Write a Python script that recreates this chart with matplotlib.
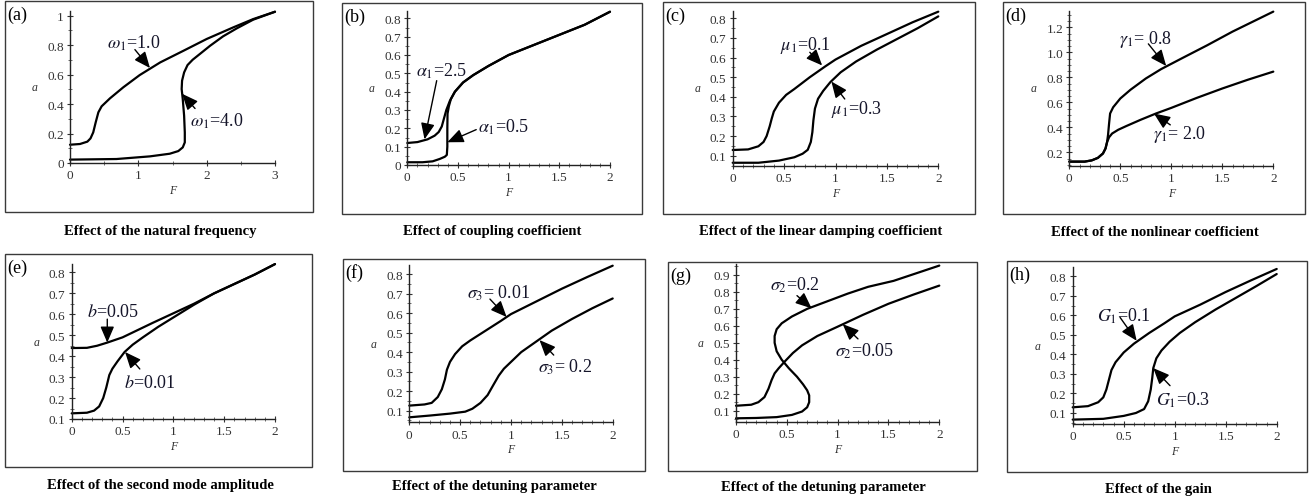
import matplotlib
matplotlib.use("Agg")
import matplotlib.pyplot as plt
from matplotlib.patches import Rectangle
from matplotlib.ticker import MultipleLocator, FormatStrFormatter, FuncFormatter

plt.rcParams['font.family'] = ['Liberation Serif', 'DejaVu Serif']
plt.rcParams['mathtext.fontset'] = 'stix'

W, H = 1309, 502

# ---- data (F, a) ----
# (a) natural frequency
a_F_w10 = [0, 0.146, 0.254, 0.30, 0.34, 0.376, 0.415, 0.463, 0.585, 0.78, 1.02, 1.32, 1.66, 2.0, 2.39, 2.68, 3.0]
a_a_w10 = [0.124, 0.129, 0.145, 0.167, 0.208, 0.276, 0.344, 0.385, 0.439, 0.514, 0.597, 0.683, 0.762, 0.842, 0.921, 0.977, 1.027]
a_F_w40 = [0, 0.68, 1.17, 1.46, 1.585, 1.65, 1.68, 1.68, 1.67, 1.65, 1.634, 1.64, 1.67, 1.72, 1.795, 1.90, 2.05, 2.24, 2.44, 2.68, 3.0]
a_a_w40 = [0.023, 0.027, 0.045, 0.063, 0.081, 0.106, 0.14, 0.208, 0.321, 0.434, 0.502, 0.559, 0.615, 0.665, 0.701, 0.74, 0.796, 0.86, 0.914, 0.973, 1.027]

# (b) coupling coefficient
b_F_al25 = [0, 0.1, 0.2, 0.27, 0.31, 0.34, 0.36, 0.385, 0.42, 0.47, 0.55, 0.65, 0.8, 1.0, 1.25, 1.5, 1.75, 2.0]
b_a_al25 = [0.12, 0.125, 0.14, 0.16, 0.18, 0.21, 0.25, 0.30, 0.35, 0.40, 0.45, 0.49, 0.54, 0.60, 0.655, 0.71, 0.765, 0.836]
b_F_al05 = [0, 0.15, 0.25, 0.32, 0.37, 0.39, 0.395, 0.395, 0.397, 0.41, 0.43, 0.47, 0.55, 0.65, 0.8, 1.0, 1.25, 1.5, 1.75, 2.0]
b_a_al05 = [0.015, 0.015, 0.02, 0.033, 0.045, 0.055, 0.10, 0.20, 0.28, 0.32, 0.36, 0.40, 0.45, 0.49, 0.54, 0.60, 0.655, 0.71, 0.765, 0.836]

# (c) linear damping coefficient
c_F_mu01 = [0, 0.15, 0.25, 0.30, 0.33, 0.36, 0.38, 0.40, 0.45, 0.52, 0.6, 0.75, 0.9, 1.0, 1.25, 1.5, 1.75, 2.0]
c_a_mu01 = [0.129, 0.132, 0.148, 0.17, 0.20, 0.25, 0.29, 0.325, 0.37, 0.41, 0.44, 0.50, 0.555, 0.59, 0.66, 0.72, 0.78, 0.834]
c_F_mu03 = [0, 0.25, 0.45, 0.6, 0.68, 0.73, 0.76, 0.775, 0.785, 0.80, 0.83, 0.88, 0.95, 1.05, 1.2, 1.4, 1.6, 1.8, 2.0]
c_a_mu03 = [0.064, 0.064, 0.075, 0.092, 0.11, 0.13, 0.17, 0.22, 0.28, 0.34, 0.39, 0.43, 0.475, 0.525, 0.58, 0.64, 0.695, 0.75, 0.81]

# (d) nonlinear coefficient
d_F_g08 = [0, 0.15, 0.22, 0.28, 0.33, 0.355, 0.37, 0.38, 0.39, 0.40, 0.43, 0.5, 0.6, 0.75, 0.9, 1.1, 1.35, 1.6, 1.8, 2.0]
d_a_g08 = [0.125, 0.125, 0.135, 0.155, 0.19, 0.23, 0.28, 0.34, 0.43, 0.51, 0.56, 0.63, 0.70, 0.79, 0.865, 0.95, 1.055, 1.165, 1.245, 1.325]
d_F_g20 = [0, 0.15, 0.22, 0.28, 0.33, 0.355, 0.37, 0.39, 0.42, 0.48, 0.56, 0.7, 0.85, 1.0, 1.25, 1.5, 1.75, 2.0]
d_a_g20 = [0.125, 0.125, 0.135, 0.155, 0.19, 0.23, 0.28, 0.32, 0.35, 0.38, 0.41, 0.46, 0.51, 0.555, 0.635, 0.71, 0.78, 0.845]

# (e) second mode amplitude
e_F_b005 = [0, 0.15, 0.25, 0.35, 0.5, 0.65, 0.8, 1.0, 1.2, 1.4, 1.6, 1.8, 2.0]
e_a_b005 = [0.439, 0.44, 0.45, 0.465, 0.49, 0.525, 0.56, 0.605, 0.65, 0.70, 0.745, 0.79, 0.84]
e_F_b001 = [0, 0.15, 0.22, 0.27, 0.31, 0.34, 0.37, 0.40, 0.45, 0.52, 0.6, 0.7, 0.85, 1.0, 1.2, 1.4, 1.6, 1.8, 2.0]
e_a_b001 = [0.127, 0.13, 0.14, 0.16, 0.20, 0.25, 0.31, 0.34, 0.375, 0.42, 0.455, 0.49, 0.54, 0.585, 0.645, 0.70, 0.745, 0.79, 0.84]

# (f) detuning sigma3
f_F_s001 = [0, 0.15, 0.22, 0.28, 0.32, 0.35, 0.37, 0.40, 0.45, 0.52, 0.6, 0.75, 0.9, 1.0, 1.25, 1.5, 1.75, 2.0]
f_a_s001 = [0.126, 0.132, 0.14, 0.17, 0.21, 0.26, 0.31, 0.35, 0.39, 0.43, 0.46, 0.51, 0.56, 0.595, 0.66, 0.725, 0.785, 0.843]
f_F_s02 = [0, 0.2, 0.4, 0.55, 0.62, 0.7, 0.77, 0.83, 0.88, 0.93, 1.0, 1.1, 1.25, 1.4, 1.6, 1.8, 2.0]
f_a_s02 = [0.066, 0.075, 0.085, 0.095, 0.11, 0.14, 0.18, 0.235, 0.28, 0.315, 0.35, 0.40, 0.455, 0.51, 0.57, 0.625, 0.675]

# (g) detuning sigma2
g_F_s005 = [0, 0.15, 0.22, 0.28, 0.32, 0.35, 0.38, 0.42, 0.48, 0.56, 0.65, 0.8, 1.0, 1.25, 1.5, 1.75, 2.0]
g_a_s005 = [0.129, 0.135, 0.15, 0.18, 0.23, 0.28, 0.32, 0.35, 0.39, 0.44, 0.485, 0.54, 0.595, 0.665, 0.73, 0.785, 0.837]
g_F_s02 = [0, 0.2, 0.4, 0.55, 0.65, 0.7, 0.72, 0.72, 0.70, 0.66, 0.6, 0.52, 0.45, 0.40, 0.38, 0.38, 0.40, 0.45,
           0.55, 0.7, 0.9, 1.1, 1.3, 1.55, 1.8, 2.0]
g_a_s02 = [0.055, 0.057, 0.062, 0.075, 0.095, 0.12, 0.15, 0.19, 0.22, 0.255, 0.30, 0.35, 0.40, 0.45, 0.50, 0.54, 0.58, 0.615,
           0.655, 0.70, 0.745, 0.79, 0.83, 0.865, 0.915, 0.955]

# (h) gain
h_F_G01 = [0, 0.15, 0.25, 0.30, 0.33, 0.36, 0.38, 0.42, 0.5, 0.6, 0.75, 0.9, 1.0, 1.25, 1.5, 1.75, 2.0]
h_a_G01 = [0.129, 0.135, 0.155, 0.18, 0.22, 0.28, 0.32, 0.36, 0.41, 0.455, 0.51, 0.56, 0.595, 0.655, 0.72, 0.78, 0.838]
h_F_G03 = [0, 0.3, 0.5, 0.62, 0.7, 0.74, 0.765, 0.78, 0.79, 0.82, 0.87, 0.95, 1.05, 1.2, 1.4, 1.6, 1.8, 2.0]
h_a_G03 = [0.066, 0.07, 0.085, 0.10, 0.12, 0.16, 0.22, 0.28, 0.33, 0.38, 0.42, 0.465, 0.51, 0.565, 0.63, 0.69, 0.75, 0.812]

panel_tags = ['(a)', '(b)', '(c)', '(d)', '(e)', '(f)', '(g)', '(h)']
captions = ['Effect of the natural frequency', 'Effect of coupling coefficient',
            'Effect of the linear damping coefficient', 'Effect of the nonlinear coefficient',
            'Effect of the second mode amplitude', 'Effect of the detuning parameter',
            'Effect of the detuning parameter', 'Effect of the gain']

# labels: (text, text position, arrow tail, arrow head)
labels = [
    [(r'$\omega_1$=1.0', (0.54, 0.82), (0.95, 0.77), (1.17, 0.645)),
     (r'$\omega_1$=4.0', (1.76, 0.29), (1.83, 0.37), (1.64, 0.47))],
    [(r'$\alpha_1$=2.5', (0.085, 0.515), (0.29, 0.46), (0.17, 0.14)),
     (r'$\alpha_1$=0.5', (0.70, 0.21), (0.68, 0.193), (0.395, 0.124))],
    [(r'$\mu_1$=0.1', (0.46, 0.669), (0.75, 0.627), (0.87, 0.56)),
     (r'$\mu_1$=0.3', (0.96, 0.338), (1.09, 0.389), (0.96, 0.478))],
    [(r'$\gamma_1$= 0.8', (0.49, 1.112), (0.775, 1.067), (0.95, 0.89)),
     (r'$\gamma_1$= 2.0', (0.82, 0.347), (0.99, 0.419), (0.83, 0.51))],
    [(r'$b$=0.05', (0.155, 0.612), (0.35, 0.577), (0.35, 0.465)),
     (r'$b$=0.01', (0.515, 0.275), (0.67, 0.339), (0.525, 0.42))],
    [(r'$\sigma_3$= 0.01', (0.564, 0.706), (0.793, 0.672), (0.957, 0.58)),
     (r'$\sigma_3$= 0.2', (1.27, 0.33), (1.42, 0.385), (1.28, 0.462))],
    [(r'$\sigma_2$=0.2', (0.334, 0.846), (0.60, 0.778), (0.744, 0.703)),
     (r'$\sigma_2$=0.05', (0.97, 0.454), (1.20, 0.523), (1.05, 0.61))],
    [(r'$G_1$=0.1', (0.24, 0.598), (0.464, 0.59), (0.627, 0.47)),
     (r'$G_1$=0.3', (0.82, 0.168), (0.954, 0.24), (0.79, 0.33))],
]

curves = [
    [(a_F_w10, a_a_w10), (a_F_w40, a_a_w40)],
    [(b_F_al25, b_a_al25), (b_F_al05, b_a_al05)],
    [(c_F_mu01, c_a_mu01), (c_F_mu03, c_a_mu03)],
    [(d_F_g08, d_a_g08), (d_F_g20, d_a_g20)],
    [(e_F_b005, e_a_b005), (e_F_b001, e_a_b001)],
    [(f_F_s001, f_a_s001), (f_F_s02, f_a_s02)],
    [(g_F_s005, g_a_s005), (g_F_s02, g_a_s02)],
    [(h_F_G01, h_a_G01), (h_F_G03, h_a_G03)],
]

# layout in pixels: frame (x0, x1, y0, y1), axes (left, right, top, bottom), caption (x, y)
layout = [
    ((5, 313, 2, 213), (70, 275, 12.3, 164), (160, 232)),
    ((342, 642, 4, 215), (407.3, 610, 12, 166), (492, 232)),
    ((663, 975, 3, 215), (732.7, 938.3, 11.5, 166.5), (821, 232)),
    ((1003, 1305, 3, 215), (1069.3, 1273.3, 12, 167), (1155, 232)),
    ((5, 312, 255, 468), (71.7, 275, 265.1, 420), (160, 486)),
    ((343, 645, 260, 472), (409.3, 612.7, 266.3, 423.4), (494, 487)),
    ((668, 977, 263, 472), (736, 939.3, 264.9, 422.7), (823, 488)),
    ((1007, 1307, 262, 473), (1072.7, 1276.7, 268.4, 424.9), (1158, 490)),
]
limits = [((0, 3), (0, 1.03)), ((0, 2), (0, 0.84)), ((0, 2), (0.05, 0.84)), ((0, 2), (0.09, 1.33)),
          ((0, 2), (0.1, 0.84)), ((0, 2), (0.04, 0.845)), ((0, 2), (0.035, 0.965)), ((0, 2), (0.044, 0.846))]


def fmt_tick(v, pos):
    s = f'{v:.2f}'.rstrip('0').rstrip('.')
    return s


fig = plt.figure(figsize=(W / 100, H / 100), dpi=100)

for i in range(8):
    (fx0, fx1, fy0, fy1), (al, ar, at, ab), (cx, cy) = layout[i]
    fig.add_artist(Rectangle((fx0 / W, 1 - fy1 / H), (fx1 - fx0) / W, (fy1 - fy0) / H,
                             transform=fig.transFigure, fill=False, edgecolor='#3a3a3a', lw=1.0))
    fig.text((fx0 + 2) / W, 1 - (fy0 + 13) / H, panel_tags[i], fontsize=13, va='center', ha='left')
    fig.text(cx / W, 1 - cy / H, captions[i], fontsize=10.5, fontweight='bold', ha='center', va='center')

    ax = fig.add_axes([al / W, 1 - ab / H, (ar - al) / W, (ab - at) / H])
    ax.patch.set_alpha(0)
    for s in ('top', 'right'):
        ax.spines[s].set_visible(False)
    for s in ('left', 'bottom'):
        ax.spines[s].set_color('#222222')
        ax.spines[s].set_linewidth(1.0)
    (xl, yl) = limits[i]
    ax.set_xlim(*xl)
    ax.set_ylim(*yl)

    if i == 0:
        ax.xaxis.set_major_locator(MultipleLocator(1))
        ax.xaxis.set_minor_locator(MultipleLocator(0.5))
        ax.yaxis.set_major_locator(MultipleLocator(0.2))
        ax.yaxis.set_minor_locator(MultipleLocator(0.1))
        ax.yaxis.set_major_formatter(FuncFormatter(fmt_tick))
    elif i == 3:
        ax.xaxis.set_major_locator(MultipleLocator(0.5))
        ax.xaxis.set_minor_locator(MultipleLocator(0.1))
        ax.yaxis.set_major_locator(MultipleLocator(0.2))
        ax.yaxis.set_minor_locator(MultipleLocator(0.05))
        ax.yaxis.set_major_formatter(FormatStrFormatter('%.1f'))
    else:
        ax.xaxis.set_major_locator(MultipleLocator(0.5))
        ax.xaxis.set_minor_locator(MultipleLocator(0.1))
        ax.yaxis.set_major_locator(MultipleLocator(0.1))
        ax.yaxis.set_minor_locator(MultipleLocator(0.05))
        ax.yaxis.set_major_formatter(FuncFormatter(fmt_tick))
    ax.xaxis.set_major_formatter(FuncFormatter(fmt_tick))
    ax.tick_params(which='major', direction='inout', length=5, width=0.8, color='#333333',
                   labelsize=9.5, labelcolor='#333333', pad=2)
    ax.tick_params(which='minor', direction='inout', length=3, width=0.6, color='#555555')

    ax.set_xlabel('F', fontsize=8.5, fontstyle='italic', color='#333333', labelpad=2)
    ax.set_ylabel('a', fontsize=8.5, fontstyle='italic', color='#333333', rotation=0,
                  labelpad=9, va='center')

    for xs, ys in curves[i]:
        ax.plot(xs, ys, color='black', lw=1.6, solid_joinstyle='round', solid_capstyle='round', clip_on=False)

    for txt, tpos, tail, head in labels[i]:
        ax.text(tpos[0], tpos[1], txt, fontsize=13, color='#15152a', ha='left', va='center')
        ax.annotate('', xy=head, xytext=tail,
                    arrowprops=dict(arrowstyle='-|>,head_length=0.7,head_width=0.3',
                                    color='black', lw=1.0, mutation_scale=14, shrinkA=0, shrinkB=0))

fig.savefig('out.png', dpi=100)
